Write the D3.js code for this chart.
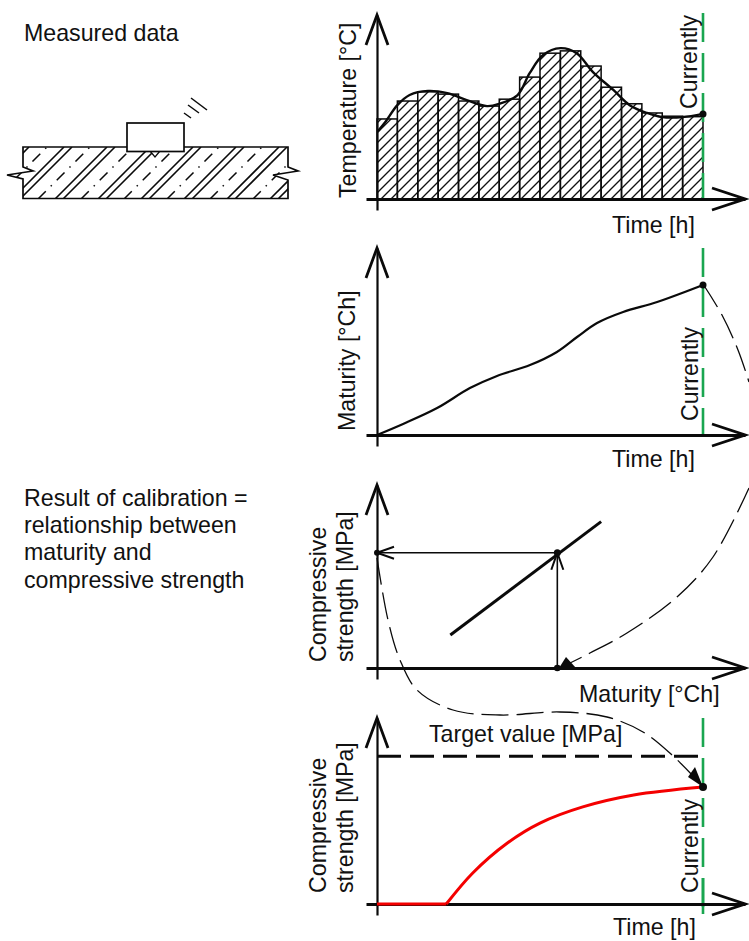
<!DOCTYPE html>
<html><head><meta charset="utf-8">
<style>html,body{margin:0;padding:0;background:#fff}svg{display:block}text{font-family:"Liberation Sans",Arial,sans-serif;fill:#111}</style>
<script src="https://cdn.jsdelivr.net/npm/d3@7/dist/d3.min.js"></script>
</head><body><svg id="c" width="749" height="941"></svg>
<script>
// --- data ---
const barTemps = [17.4,21.3,23.3,22.8,21.3,20.2,21.7,26.5,31.7,32.2,28.9,24.3,20.7,18.7,18.0,17.9];
const tempHours = [0.05,0.4,1,1.6,2.5,3.45,4.4,5.4,6,6.9,7.5,8.15,9,9.8,10.6,11.6,12.4,13.25,14,15,16];
const tempValues = [14.8,16.7,20.4,22.6,23.5,23,21.5,20.2,20.7,22.6,27.4,31.3,32.8,31.7,27.6,23.7,20.4,18.7,17.8,17.8,18.5];
const matHours = [0,1.28,2.95,4.56,5.89,7.51,8.83,9.82,10.8,12.08,13.75,16];
const matValues = [0,5.9,14.4,25.1,31.6,37.4,44.4,52.4,59.9,65.8,71.1,80.2];
const calibMaturity = [3.6,11];
const calibStrength = [18,80];
const readMaturity = 8.85;
const readStrength = 63;
const strengthHours = [0,3.4,4.7,6.4,8,10.1,12.6,16];
const strengthValues = [0,0,16.7,32.8,43.5,52.2,58.6,62.9];
const targetValue = 80;
const timeLabel = "Time [h]", nowLabel = "Currently";
const leftLines = ["Result of calibration =","relationship between","maturity and","compressive strength"];
const FS = 23.2;

const svg = d3.select("#c");
const defs = svg.append("defs");
const hatch = defs.append("pattern").attr("id","hatch").attr("patternUnits","userSpaceOnUse")
  .attr("width",10).attr("height",10);
hatch.append("path").attr("d","M-2,12L12,-2M-2,2L2,-2M8,12L12,8").attr("stroke","#111").attr("stroke-width",1.35).attr("fill","none");

const T0=377, TN=703, XTIP=745;
const black="#0a0a0a", green="#1aa650", red="#f40000";
const line=(g,x1,y1,x2,y2,w=1.5,c=black,da=null)=>g.append("line").attr("x1",x1).attr("y1",y1).attr("x2",x2).attr("y2",y2)
  .attr("stroke",c).attr("stroke-width",w).attr("stroke-dasharray",da).attr("stroke-linecap","butt");
function axes(base,top){
  const g=svg.append("g");
  const ax=d3.scaleLinear().domain([0,1]).range([366,XTIP]);
  const ay=d3.scaleLinear().domain([0,1]).range([base+11,top]);
  const gx=g.append("g").attr("transform",`translate(0,${base})`).call(d3.axisBottom(ax).tickValues([]).tickSizeOuter(0));
  gx.select("path").attr("stroke",black).attr("stroke-width",2.8);
  const gy=g.append("g").attr("transform",`translate(${T0},0)`).call(d3.axisLeft(ay).tickValues([]).tickSizeOuter(0));
  gy.select("path").attr("stroke",black).attr("stroke-width",2.2);
  const head=d=>g.append("path").attr("d",d).attr("fill","none").attr("stroke",black).attr("stroke-width",2.8).attr("stroke-linejoin","miter");
  head(`M${T0-11},${top+30}L${T0},${top}L${T0+11},${top+30}`);
  head(`M${XTIP-33},${base-11}L${XTIP},${base}L${XTIP-33},${base+11}`);
}
function vtext(s,x,y,size=FS){
  svg.append("text").attr("transform",`translate(${x},${y}) rotate(-90)`).attr("font-size",size).text(s);
}
function htext(s,x,y,size=FS){svg.append("text").attr("x",x).attr("y",y).attr("font-size",size).text(s);}
function nowLine(top,bot){ line(svg,TN,top,TN,bot,2.6,green,"29 11"); }
function dot(x,y,r=3.5){svg.append("circle").attr("cx",x).attr("cy",y).attr("r",r).attr("fill",black);}
const xT=d3.scaleLinear().domain([0,16]).range([T0,TN]);
const smooth=(x,y)=>d3.line().x(d=>x(d[0])).y(d=>y(d[1])).curve(d3.curveCatmullRom.alpha(0.5));

// ---------- Panel 1: temperature
const y1=d3.scaleLinear().domain([0,40]).range([199,15]);
svg.append("g").selectAll("rect").data(barTemps).join("rect")
  .attr("x",(d,i)=>xT(i)).attr("width",xT(1)-xT(0)).attr("y",d=>y1(d)).attr("height",d=>y1(0)-y1(d))
  .attr("fill","url(#hatch)").attr("stroke",black).attr("stroke-width",1.5);
svg.append("path").datum(d3.zip(tempHours,tempValues))
  .attr("d",smooth(xT,y1))
  .attr("fill","none").attr("stroke",black).attr("stroke-width",2.4);
nowLine(13,199);
axes(199,15);
dot(TN,y1(tempValues[tempValues.length-1]));
vtext("Temperature [°C]",356,198);
vtext(nowLabel,697,109);
htext(timeLabel,612,233);

// ---------- Panel 2: maturity
const y2=d3.scaleLinear().domain([0,100]).range([435,248]);
svg.append("path").datum(d3.zip(matHours,matValues))
  .attr("d",smooth(xT,y2))
  .attr("fill","none").attr("stroke",black).attr("stroke-width",2.2);
nowLine(248,435);
axes(435,248);
dot(TN,y2(matValues[matValues.length-1]));
vtext("Maturity [°Ch]",355,431);
vtext(nowLabel,698,421);
htext(timeLabel,612,467);

// ---------- Panel 3: calibration
const xM=d3.scaleLinear().domain([0,16]).range([T0,TN]);
const y3=d3.scaleLinear().domain([0,100]).range([668,485]);
axes(668,485);
svg.append("path").datum(d3.zip(calibMaturity,calibStrength))
  .attr("d",d3.line().x(d=>xM(d[0])).y(d=>y3(d[1]))).attr("stroke",black).attr("stroke-width",3).attr("fill","none");
const px=xM(readMaturity), py=y3(readStrength);
line(svg,px,y3(0),px,py,1.6);
line(svg,T0,py,px,py,1.6);
svg.append("path").attr("d",`M${px-6},${py+17}L${px},${py}L${px+6},${py+17}`).attr("fill","none").attr("stroke",black).attr("stroke-width",2);
svg.append("path").attr("d",`M${T0+17},${py-6}L${T0},${py}L${T0+17},${py+6}`).attr("fill","none").attr("stroke",black).attr("stroke-width",2);
dot(px,py,3.5);dot(T0,py,3);dot(px,y3(0),3.3);
vtext("Compressive",326,662);
vtext("strength [MPa]",353,662);
htext("Maturity [°Ch]",579,702);

// ---------- Panel 4: strength over time
const y4=d3.scaleLinear().domain([0,100]).range([904,718]);
nowLine(718,907);
line(svg,TN,878,TN,914,2.6,green);
axes(904,718);
line(svg,T0,y4(targetValue)+1,TN,y4(targetValue)+1,3,black,"24 9");
const strengthPts=d3.zip(strengthHours,strengthValues);
svg.append("path").datum(strengthPts.slice(0,2))
  .attr("d",d3.line().x(d=>xT(d[0])).y(d=>y4(d[1])))
  .attr("fill","none").attr("stroke",red).attr("stroke-width",3);
svg.append("path").datum(strengthPts.slice(1))
  .attr("d",smooth(xT,y4))
  .attr("fill","none").attr("stroke",red).attr("stroke-width",3);
dot(TN,y4(strengthValues[strengthValues.length-1]),4);
vtext("Compressive",326,893);
vtext("strength [MPa]",353,893);
vtext(nowLabel,698,893);
htext("Target value [MPa]",429,742);
htext(timeLabel,613,935);

// ---------- Dashed connectors
const conn1=[[703,284],[722,315],[738,350],[749,382]];
const conn2=[[749,488],[713,557],[677,597],[627,633],[590,653],[566,665]];
const conn3=[[377,558],[388,620],[400,660],[417,690],[453,710],[500,715],[560,712],[607,717],[643,732],[672,755],[694,777]];
const cl=d3.line().curve(d3.curveCatmullRom.alpha(0.5));
[conn1,conn2,conn3].forEach(c=>svg.append("path").attr("d",cl(c)).attr("fill","none").attr("stroke",black).attr("stroke-width",1.3).attr("stroke-dasharray","27 8"));
svg.append("path").attr("d","M559,668L576,668L566,657Z").attr("fill",black);
svg.append("path").attr("d","M703,787L688,777L695,767Z").attr("fill",black);

// ---------- Left column
htext("Measured data",24,41);
leftLines.forEach((s,i)=>htext(s,24,[506,533,560,588][i]));

// concrete sketch
const sk=svg.append("g");
const slab=[[23,147],[288,147],[288,167],[298,171],[273,175],[288,180],[288,198.5],[23,198.5],[23,179],[7,175],[33,171],[23,167]];
defs.append("clipPath").attr("id","slabClip").append("path").attr("d",d3.line()(slab)+"Z");
const hg=sk.append("g").attr("clip-path","url(#slabClip)");
d3.range(-2,7).forEach(k=>{
  const b=55+k*43;
  [0,8].forEach(o=>line(hg,b+o,199,b+o+52,147,1.6));
  line(hg,b+26,199,b+26+52,147,1.5,black,"11 7 1.5 7");
});
sk.append("path").attr("d",d3.line()(slab)+"Z").attr("fill","none").attr("stroke",black).attr("stroke-width",1.7);
sk.append("path").attr("d","M150,151L160,151L155,157Z").attr("fill","#fff").attr("stroke",black).attr("stroke-width",1.2);
sk.append("rect").attr("x",127).attr("y",123).attr("width",57).attr("height",28.5).attr("fill","#fff").attr("stroke",black).attr("stroke-width",1.7);
line(sk,184,113,191,118,1.5);line(sk,188,105,199,113,1.5);line(sk,191,98,207,110,1.5);
</script></body></html>
